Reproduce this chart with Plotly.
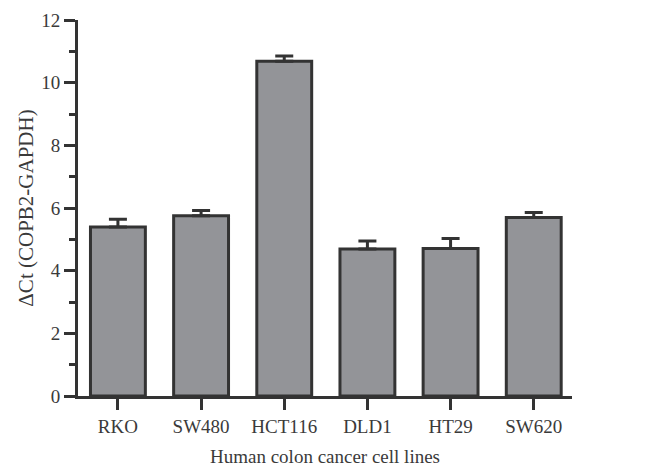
import plotly.graph_objects as go

cell_lines = ["RKO", "SW480", "HCT116", "DLD1", "HT29", "SW620"]
delta_ct = [5.39, 5.75, 10.68, 4.69, 4.71, 5.70]
sem = [0.25, 0.17, 0.17, 0.26, 0.32, 0.16]
y_ticks = [0, 2, 4, 6, 8, 10, 12]

dark = "#333333"
text_col = "#3a3a3a"
font_family = "Liberation Serif, Times New Roman, serif"

fig = go.Figure()
fig.add_trace(go.Bar(
    x=cell_lines,
    y=delta_ct,
    width=0.66,
    marker=dict(color="#939498", line=dict(color=dark, width=3)),
    error_y=dict(type="data", symmetric=False, array=sem,
                 arrayminus=[0] * len(sem), color=dark, thickness=3, width=9),
))

# page body has an 8px margin, so margins are compensated
fig.update_layout(
    width=651, height=466,
    margin=dict(l=70, r=87, t=12, b=78, autoexpand=False),
    paper_bgcolor="white", plot_bgcolor="white",
    showlegend=False,
    font=dict(family=font_family, size=19, color=text_col),
)
fig.update_xaxes(
    range=[-0.48, 5.46],
    showline=True, linecolor=dark, linewidth=3,
    ticks="outside", ticklen=11, tickwidth=3, tickcolor=dark,
    showgrid=False, zeroline=False,
    tickfont=dict(size=19, color=text_col),
    title=dict(text="Human colon cancer cell lines", font=dict(size=19, color=text_col), standoff=14),
)
fig.update_yaxes(
    range=[0, 12],
    tickvals=y_ticks,
    showline=True, linecolor=dark, linewidth=3,
    ticks="outside", ticklen=11, tickwidth=3, tickcolor=dark,
    minor=dict(dtick=1, ticks="outside", ticklen=6, tickwidth=3, tickcolor=dark, showgrid=False),
    showgrid=False, zeroline=False,
    tickfont=dict(size=19, color=text_col),
    title=dict(text="ΔCt (COPB2-GAPDH)", font=dict(size=21, color=text_col), standoff=2),
)

fig.write_html("out.html")
